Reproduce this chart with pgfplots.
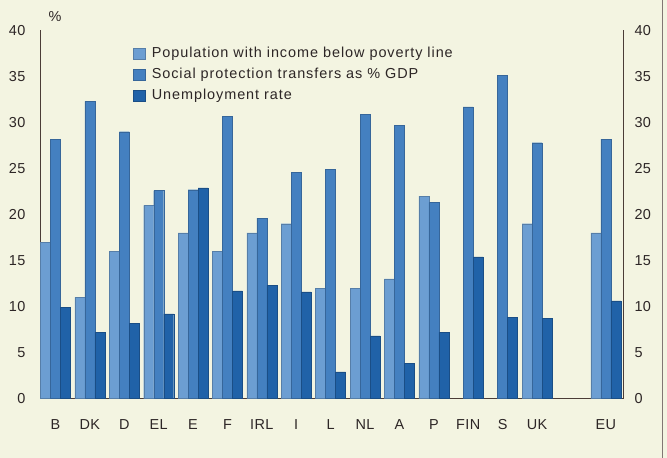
\documentclass[border=0pt]{standalone}
\usepackage{fontspec}
\setmainfont{Liberation Sans}
\usepackage{pgfplots}
\pgfplotsset{compat=1.18}
\definecolor{bg}{RGB}{243,244,225}
\definecolor{c1}{RGB}{108,158,210}
\definecolor{c2}{RGB}{68,128,192}
\definecolor{c3}{RGB}{32,98,168}
\definecolor{axc}{RGB}{75,60,55}
\definecolor{txt}{RGB}{45,38,38}
\newcommand{\tickfont}{\fontsize{14.5}{14.5}\selectfont\addfontfeatures{LetterSpace=3}}
\newcommand{\legfont}{\fontsize{14.5}{14.5}\selectfont\addfontfeatures{LetterSpace=6.5}}
\begin{document}
\begin{tikzpicture}
\fill[bg] (-40bp,-59bp) rectangle (627bp,398bp);
\draw[axc!70, line width=1bp] (622.5bp,-59bp) -- (622.5bp,398bp);
\begin{axis}[at={(0bp,0bp)},anchor=south west, scale only axis, width=583bp, height=368bp,
  xmin=-0.45, xmax=16.5, ymin=0, ymax=40,
  axis x line*=bottom, axis y line*=left,
  axis line style={axc, line width=0.8pt},
  major tick length=0pt,
  ytick={0,5,...,40},
  xtick={0,1,2,3,4,5,6,7,8,9,10,11,12,13,14,16},
  xticklabels={B,DK,D,EL,E,F,IRL,I,L,NL,A,P,FIN,S,UK,EU},
  /pgf/number format/assume math mode=true,
  tick label style={font=\tickfont, text=txt},
  xticklabel style={yshift=-16bp, text height=11bp, text depth=0bp},
  yticklabel style={xshift=-11bp},
  ybar, bar width=10bp,
  legend style={at={(0.16,0.96)}, anchor=north west, draw=none, fill=none,
    font=\legfont, text=txt, row sep=5bp, column sep=4bp, inner sep=0pt},
  legend cell align=left,
  legend image code/.code={\fill[#1] (0bp,-5.5bp) rectangle (12bp,5.5bp);},
  clip=false,
]
\addplot[fill=c1, draw=c1!80!black, line width=0.3pt, bar shift=-10bp] coordinates {
 (0,17.0) (1,11.0) (2,16.0) (3,21.0) (4,18.0) (5,16.0) (6,18.0) (7,19.0)
 (8,12.0) (9,12.0) (10,13.0) (11,22.0) (14,19.0) (16,18.0)};
\addplot[fill=c2, draw=c2!80!black, line width=0.3pt, bar shift=0bp] coordinates {
 (0,28.2) (1,32.3) (2,29.0) (3,22.6) (4,22.7) (5,30.7) (6,19.6) (7,24.6)
 (8,24.9) (9,30.9) (10,29.7) (11,21.3) (12,31.7) (13,35.1) (14,27.8) (16,28.2)};
\addplot[fill=c3, draw=c3!80!black, line width=0.3pt, bar shift=10bp] coordinates {
 (0,9.9) (1,7.2) (2,8.2) (3,9.2) (4,22.9) (5,11.7) (6,12.3) (7,11.6)
 (8,2.9) (9,6.8) (10,3.8) (11,7.2) (12,15.4) (13,8.8) (14,8.7) (16,10.6)};
\legend{Population with income below poverty line, Social protection transfers as \% GDP, Unemployment rate}
\node[text=txt, font=\tickfont] at (axis description cs:0.026,1.038) {\%};
\end{axis}
\begin{axis}[at={(0bp,0bp)},anchor=south west, scale only axis, width=583bp, height=368bp,
  xmin=-0.45, xmax=16.5, ymin=0, ymax=40,
  axis x line=none, axis y line*=right,
  axis line style={axc, line width=0.8pt},
  major tick length=0pt,
  ytick={0,5,...,40},
  /pgf/number format/assume math mode=true,
  tick label style={font=\tickfont, text=txt},
  yticklabel style={xshift=8bp},
]
\end{axis}
\end{tikzpicture}
\end{document}
